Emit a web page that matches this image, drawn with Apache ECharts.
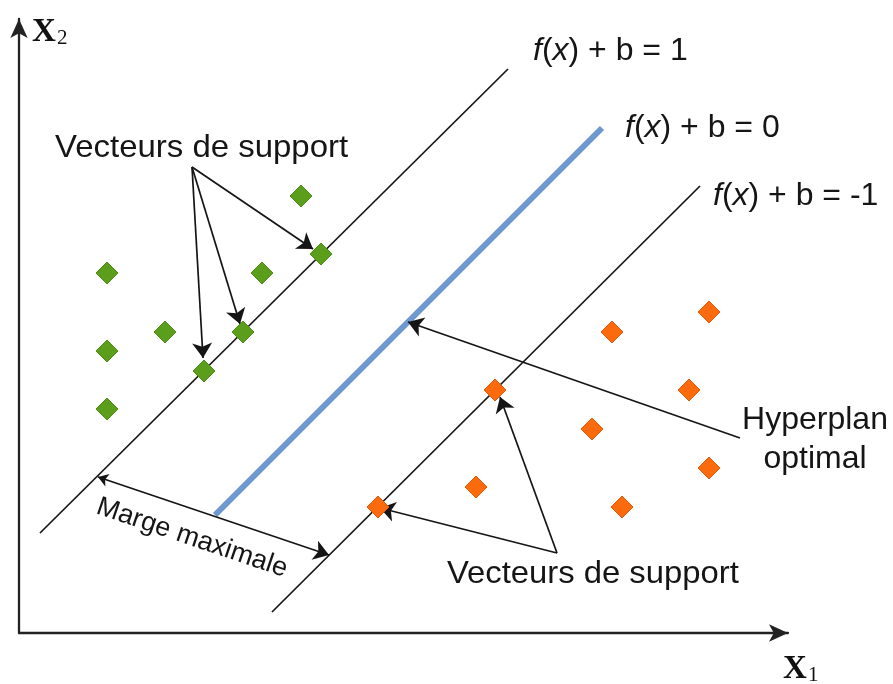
<!DOCTYPE html>
<html>
<head>
<meta charset="utf-8">
<script src="https://cdn.jsdelivr.net/npm/echarts@6/dist/echarts.min.js"></script>
<style>html,body{margin:0;padding:0;background:#fff}#c{width:893px;height:684px}</style>
</head>
<body>
<div id="c"></div>
<script>
// ---- data (chart units) ----
const xMax = 769, yMax = 614;
const greenPoints = [[282,437],[302,379],[88,360],[243,360],[146,301],[224,301],[88,282],[185,262],[88,224]];
const orangePoints = [[690,321],[593,301],[476,243],[670,243],[573,204],[690,165],[457,146],[603,126],[359,126]];
const marginPlus = [[21,100],[489,564]];
const hyperplane = [[196,118],[583,505]];
const marginMinus = [[253,21],[681,447]];
const supportArrowsTop = [[[173,466],[294,384]],[[173,466],[221,309]],[[173,466],[184,275]]];
const supportArrowsBottom = [[[538,80],[361,125]],[[538,80],[481,236]]];
const hyperplanArrow = [[[721,195],[389,311]]];
const margeArrow = [[79,156],[310,78]];
const lineLabels = ['f(x) + b = 1', 'f(x) + b = 0', 'f(x) + b = -1'];
const supportLabel = 'Vecteurs de support';
const hyperLabel = ['Hyperplan', 'optimal'];
const margeLabel = 'Marge maximale';

// ---- helpers ----
const ARROW = [10, 15];
function arrowData(list) {
  return list.map(function (a) { return { coords: [a[0], a[1]] }; });
}
const FONT = '"Liberation Sans", Arial, sans-serif';
function richLabel(s) { return s.replace('f(x)', '{i|f}({i|x})'); }

const chart = echarts.init(document.getElementById('c'), null, { renderer: 'canvas' });
const black = '#151515';
const arrowSeries = function (data, sym) {
  return {
    type: 'lines', coordinateSystem: 'cartesian2d', data: data, z: 4,
    symbol: sym || ['none', 'arrow'], symbolSize: ARROW,
    lineStyle: { color: black, width: 1.7, opacity: 1, curveness: 0 },
    silent: true
  };
};
const margeData = [{ coords: margeArrow }];

function txt(x, y, text, size, align, extra) {
  return Object.assign({
    type: 'text', x: x, y: y, silent: true, z: 10,
    style: {
      text: text, fontSize: size, fontFamily: FONT, fill: black,
      textAlign: align || 'left', textVerticalAlign: 'middle',
      rich: { i: { fontStyle: 'italic', fontSize: size, fontFamily: FONT, fill: black } }
    }
  }, extra || {});
}

chart.setOption({
  animation: false,
  backgroundColor: '#fff',
  grid: { left: 19, right: 105, top: 19, bottom: 51 },
  xAxis: {
    type: 'value', min: 0, max: xMax,
    axisLine: { show: true, symbol: ['none', 'arrow'], symbolSize: [13, 19], lineStyle: { color: '#222', width: 2.3 } },
    axisTick: { show: false }, axisLabel: { show: false }, splitLine: { show: false }
  },
  yAxis: {
    type: 'value', min: 0, max: yMax,
    axisLine: { show: true, symbol: ['none', 'arrow'], symbolSize: [13, 19], lineStyle: { color: '#222', width: 2.3 } },
    axisTick: { show: false }, axisLabel: { show: false }, splitLine: { show: false }
  },
  series: [
    { type: 'line', data: marginPlus, showSymbol: false, silent: true, z: 2, lineStyle: { color: black, width: 1.7 } },
    { type: 'line', data: marginMinus, showSymbol: false, silent: true, z: 2, lineStyle: { color: black, width: 1.7 } },
    { type: 'line', data: hyperplane, showSymbol: false, silent: true, z: 2, lineStyle: { color: '#6e98cf', width: 6, cap: 'butt' } },
    arrowSeries(arrowData(supportArrowsTop)),
    arrowSeries(arrowData(supportArrowsBottom)),
    arrowSeries(arrowData(hyperplanArrow)),
    arrowSeries(margeData, ['arrow', 'arrow']),
    { type: 'scatter', data: greenPoints, symbol: 'diamond', symbolSize: 22, z: 5, silent: true,
      itemStyle: { color: '#5a9e1c', borderColor: '#4f8d17', borderWidth: 1, opacity: 1 } },
    { type: 'scatter', data: orangePoints, symbol: 'diamond', symbolSize: 22, z: 5, silent: true,
      itemStyle: { color: '#fb6a0c', borderColor: '#e05c0a', borderWidth: 1, opacity: 1 } }
  ],
  graphic: [
    txt(533, 51, richLabel(lineLabels[0]), 32),
    txt(625, 128, richLabel(lineLabels[1]), 32),
    txt(713, 196, richLabel(lineLabels[2]), 32),
    txt(55, 148, supportLabel, 32, 'left', { scaleX: 1.03 }),
    txt(447, 574, supportLabel, 32, 'left', { scaleX: 1.025 }),
    txt(815, 420, hyperLabel[0], 32, 'center'),
    txt(815, 459, hyperLabel[1], 32, 'center'),
    txt(192, 538, margeLabel, 27, 'center', { rotation: -0.326 }),
    { type: 'text', x: 32, y: 32, silent: true, style: { text: 'X', fontSize: 33, fontWeight: 'bold', fontFamily: '"Liberation Serif", "DejaVu Serif", serif', fill: '#111', textVerticalAlign: 'middle' } },
    { type: 'text', x: 57, y: 38, silent: true, style: { text: '2', fontSize: 21, fontFamily: '"Liberation Serif", "DejaVu Serif", serif', fill: '#111', textVerticalAlign: 'middle' } },
    { type: 'text', x: 783, y: 669, silent: true, style: { text: 'X', fontSize: 33, fontWeight: 'bold', fontFamily: '"Liberation Serif", "DejaVu Serif", serif', fill: '#111', textVerticalAlign: 'middle' } },
    { type: 'text', x: 808, y: 675, silent: true, style: { text: '1', fontSize: 21, fontFamily: '"Liberation Serif", "DejaVu Serif", serif', fill: '#111', textVerticalAlign: 'middle' } }
  ]
});
</script>
</body>
</html>
